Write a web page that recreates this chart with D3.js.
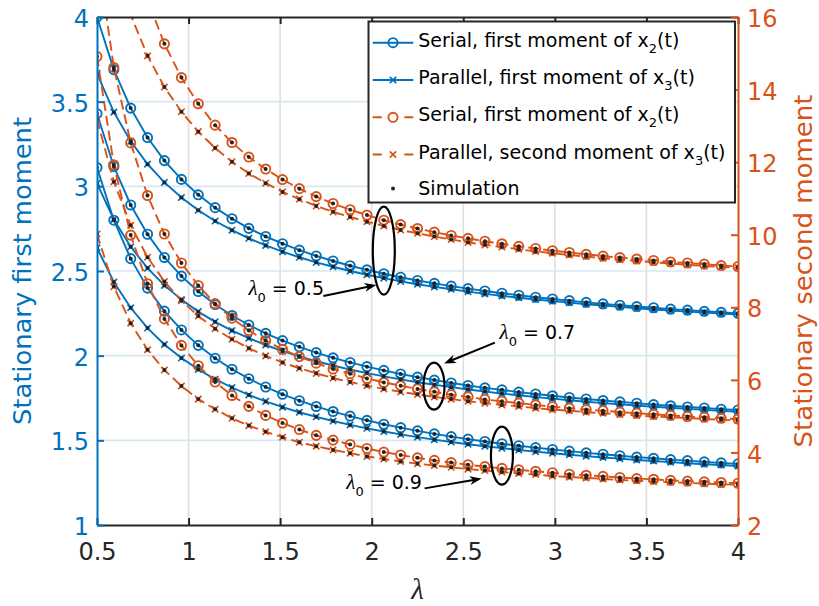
<!DOCTYPE html>
<html>
<head>
<meta charset="utf-8">
<script src="https://cdn.jsdelivr.net/npm/d3@7"></script>
<style>
  body { margin: 0; background: #fff; }
  svg { display: block; font-family: "DejaVu Sans", sans-serif; }
</style>
</head>
<body>
<div id="chart"></div>
<script>
// lambda (x axis) sample points
var lambdaValues = [0.5, 0.592, 0.684, 0.776, 0.868, 0.961, 1.053, 1.145, 1.237, 1.329, 1.421, 1.513, 1.605,
  1.697, 1.789, 1.882, 1.974, 2.066, 2.158, 2.25, 2.342, 2.434, 2.526, 2.618, 2.711, 2.803, 2.895, 2.987,
  3.079, 3.171, 3.263, 3.355, 3.447, 3.539, 3.632, 3.724, 3.816, 3.908, 4.0];

// first moment (left axis)
var serialFirst05 = [4.000, 3.689, 3.462, 3.288, 3.152, 3.041, 2.950, 2.874, 2.809, 2.752, 2.704, 2.661, 2.623,
  2.589, 2.559, 2.531, 2.507, 2.484, 2.463, 2.444, 2.427, 2.411, 2.396, 2.382, 2.369, 2.357, 2.345, 2.335,
  2.325, 2.315, 2.306, 2.298, 2.290, 2.283, 2.275, 2.269, 2.262, 2.256, 2.250];
var parallelFirst05 = [3.667, 3.438, 3.266, 3.131, 3.023, 2.934, 2.859, 2.795, 2.741, 2.693, 2.651, 2.614, 2.581,
  2.551, 2.525, 2.500, 2.478, 2.458, 2.439, 2.422, 2.406, 2.392, 2.378, 2.365, 2.353, 2.342, 2.332, 2.322,
  2.313, 2.304, 2.296, 2.288, 2.280, 2.273, 2.266, 2.260, 2.254, 2.248, 2.243];
var serialFirst07 = [3.429, 3.117, 2.890, 2.717, 2.580, 2.470, 2.379, 2.302, 2.237, 2.181, 2.132, 2.089, 2.052,
  2.018, 1.987, 1.960, 1.935, 1.913, 1.892, 1.873, 1.856, 1.839, 1.824, 1.810, 1.798, 1.785, 1.774, 1.763,
  1.753, 1.744, 1.735, 1.727, 1.719, 1.711, 1.704, 1.697, 1.691, 1.684, 1.679];
var parallelFirst07 = [3.017, 2.804, 2.643, 2.517, 2.415, 2.331, 2.260, 2.200, 2.148, 2.103, 2.063, 2.027, 1.996,
  1.967, 1.942, 1.918, 1.897, 1.878, 1.860, 1.843, 1.828, 1.814, 1.800, 1.788, 1.776, 1.766, 1.755, 1.746,
  1.737, 1.728, 1.720, 1.713, 1.705, 1.698, 1.692, 1.686, 1.680, 1.674, 1.669];
var serialFirst09 = [3.111, 2.800, 2.573, 2.399, 2.263, 2.152, 2.061, 1.985, 1.920, 1.864, 1.815, 1.772, 1.734,
  1.700, 1.670, 1.643, 1.618, 1.595, 1.575, 1.556, 1.538, 1.522, 1.507, 1.493, 1.480, 1.468, 1.457, 1.446,
  1.436, 1.426, 1.418, 1.409, 1.401, 1.394, 1.386, 1.380, 1.373, 1.367, 1.361];
var parallelFirst09 = [2.637, 2.435, 2.283, 2.163, 2.066, 1.986, 1.919, 1.861, 1.812, 1.768, 1.730, 1.696, 1.666,
  1.639, 1.614, 1.591, 1.571, 1.552, 1.535, 1.519, 1.504, 1.490, 1.477, 1.465, 1.454, 1.443, 1.433, 1.424,
  1.415, 1.407, 1.399, 1.392, 1.384, 1.378, 1.371, 1.365, 1.359, 1.354, 1.348];

// second moment (right axis)
var serialSecond05 = [24.00, 20.46, 18.12, 16.47, 15.26, 14.33, 13.61, 13.02, 12.54, 12.14, 11.81, 11.52, 11.27,
  11.05, 10.86, 10.69, 10.54, 10.40, 10.28, 10.17, 10.07, 9.98, 9.90, 9.82, 9.75, 9.68, 9.62, 9.56,
  9.51, 9.46, 9.41, 9.37, 9.33, 9.29, 9.25, 9.22, 9.19, 9.15, 9.125];
var parallelSecond05 = [19.78, 17.59, 16.06, 14.93, 14.07, 13.39, 12.84, 12.39, 12.01, 11.69, 11.42, 11.18, 10.98,
  10.79, 10.63, 10.49, 10.36, 10.24, 10.13, 10.04, 9.95, 9.87, 9.79, 9.72, 9.66, 9.60, 9.54, 9.49,
  9.44, 9.40, 9.35, 9.31, 9.28, 9.24, 9.21, 9.17, 9.14, 9.11, 9.09];
var serialSecond07 = [17.80, 14.61, 12.53, 11.08, 10.02, 9.22, 8.60, 8.10, 7.70, 7.36, 7.08, 6.84, 6.64,
  6.46, 6.30, 6.17, 6.04, 5.93, 5.84, 5.75, 5.67, 5.59, 5.53, 5.46, 5.41, 5.36, 5.31, 5.26,
  5.22, 5.18, 5.15, 5.11, 5.08, 5.05, 5.02, 4.99, 4.97, 4.94, 4.92];
var parallelSecond07 = [13.18, 11.46, 10.26, 9.38, 8.71, 8.18, 7.76, 7.41, 7.12, 6.87, 6.66, 6.48, 6.32,
  6.18, 6.05, 5.94, 5.84, 5.75, 5.67, 5.60, 5.53, 5.47, 5.41, 5.36, 5.31, 5.27, 5.22, 5.18,
  5.15, 5.11, 5.08, 5.05, 5.02, 4.99, 4.97, 4.95, 4.92, 4.90, 4.88];
var serialSecond09 = [14.91, 11.93, 9.99, 8.65, 7.68, 6.95, 6.39, 5.94, 5.57, 5.27, 5.02, 4.81, 4.63,
  4.47, 4.34, 4.22, 4.11, 4.01, 3.93, 3.85, 3.78, 3.72, 3.66, 3.61, 3.56, 3.52, 3.48, 3.44,
  3.40, 3.37, 3.34, 3.31, 3.28, 3.26, 3.23, 3.21, 3.19, 3.17, 3.15];
var parallelSecond09 = [10.02, 8.57, 7.56, 6.83, 6.27, 5.83, 5.47, 5.19, 4.94, 4.74, 4.57, 4.42, 4.28,
  4.17, 4.07, 3.98, 3.89, 3.82, 3.75, 3.69, 3.64, 3.59, 3.54, 3.50, 3.46, 3.42, 3.39, 3.35,
  3.32, 3.30, 3.27, 3.24, 3.22, 3.20, 3.18, 3.16, 3.14, 3.12, 3.11];

// ticks
var xTicks = [0.5, 1, 1.5, 2, 2.5, 3, 3.5, 4];
var leftTicks = [1, 1.5, 2, 2.5, 3, 3.5, 4];
var rightTicks = [2, 4, 6, 8, 10, 12, 14, 16];

// legend entries: [text before subscript, subscript, after]
var legendLabels = [
  ["Serial, first moment of x", "2", "(t)"],
  ["Parallel, first moment of x", "3", "(t)"],
  ["Serial, first moment of x", "2", "(t)"],
  ["Parallel, second moment of x", "3", "(t)"],
  ["Simulation", "", ""]
];

// lambda_0 annotations (ellipse centre in data units)
var lambda0Labels = ["0.5", "0.7", "0.9"];
var lambda0Centers = [[2.066, 2.62], [2.34, 1.82], [2.711, 1.41]];

var blue = "#0072BD", orange = "#D95319", dark = "#262626";

// set the dimensions and margins of the graph
var margin = { top: 17, right: 81, bottom: 81, left: 97 },
    width = 819 - margin.left - margin.right,
    height = 606 - margin.top - margin.bottom;

var svgRoot = d3.select("#chart")
    .append("svg")
    .attr("width", 819)
    .attr("height", 606);

svgRoot.append("rect").attr("width", 819).attr("height", 606).attr("fill", "#fff");

var svg = svgRoot.append("g")
    .attr("transform", "translate(" + margin.left + "," + margin.top + ")");

var x = d3.scaleLinear().domain([0.5, 4]).range([0, width]);
var yLeft = d3.scaleLinear().domain([1, 4]).range([height, 0]);
var yRight = d3.scaleLinear().domain([2, 16]).range([height, 0]);

// grid
svg.append("g").selectAll("line")
    .data(xTicks.slice(1, -1))
    .enter().append("line")
    .attr("x1", function (d) { return x(d); })
    .attr("x2", function (d) { return x(d); })
    .attr("y1", 0).attr("y2", height)
    .attr("stroke", "#dfdfdf").attr("stroke-width", 1.6);

svg.append("g").selectAll("line")
    .data(leftTicks.slice(1, -1))
    .enter().append("line")
    .attr("x1", 0).attr("x2", width)
    .attr("y1", function (d) { return yLeft(d); })
    .attr("y2", function (d) { return yLeft(d); })
    .attr("stroke", "#d6e7f4").attr("stroke-width", 1.6);

svg.append("clipPath").attr("id", "plotClip")
    .append("rect").attr("width", width).attr("height", height);

var plot = svg.append("g").attr("clip-path", "url(#plotClip)");

var curves = [
  { values: serialFirst05, y: yLeft, color: blue, marker: "o", dashed: false },
  { values: parallelFirst05, y: yLeft, color: blue, marker: "x", dashed: false },
  { values: serialFirst07, y: yLeft, color: blue, marker: "o", dashed: false },
  { values: parallelFirst07, y: yLeft, color: blue, marker: "x", dashed: false },
  { values: serialFirst09, y: yLeft, color: blue, marker: "o", dashed: false },
  { values: parallelFirst09, y: yLeft, color: blue, marker: "x", dashed: false },
  { values: serialSecond05, y: yRight, color: orange, marker: "o", dashed: true },
  { values: parallelSecond05, y: yRight, color: orange, marker: "x", dashed: true },
  { values: serialSecond07, y: yRight, color: orange, marker: "o", dashed: true },
  { values: parallelSecond07, y: yRight, color: orange, marker: "x", dashed: true },
  { values: serialSecond09, y: yRight, color: orange, marker: "o", dashed: true },
  { values: parallelSecond09, y: yRight, color: orange, marker: "x", dashed: true }
];

function drawMarker(g, type, cx, cy, color) {
    if (type == "o") {
        g.append("circle").attr("cx", cx).attr("cy", cy).attr("r", 4.6)
            .attr("fill", "none").attr("stroke", color).attr("stroke-width", 1.9);
    } else if (type == "x") {
        var s = 3.2;
        g.append("path")
            .attr("d", "M" + (cx - s) + "," + (cy - s) + "L" + (cx + s) + "," + (cy + s) +
                "M" + (cx - s) + "," + (cy + s) + "L" + (cx + s) + "," + (cy - s))
            .attr("stroke", color).attr("stroke-width", 1.7).attr("fill", "none");
    } else {
        g.append("circle").attr("cx", cx).attr("cy", cy).attr("r", 2).attr("fill", "#222");
    }
}

var line = d3.line();

curves.forEach(function (c) {
    var pts = lambdaValues.map(function (l, i) { return [x(l), c.y(c.values[i])]; });
    plot.append("path")
        .attr("d", line(pts))
        .attr("fill", "none")
        .attr("stroke", c.color)
        .attr("stroke-width", 1.9)
        .attr("stroke-dasharray", c.dashed ? "10,5" : null);
    pts.forEach(function (p) { drawMarker(plot, c.marker, p[0], p[1], c.color); });
});

// simulation dots on top
curves.forEach(function (c) {
    lambdaValues.forEach(function (l, i) {
        drawMarker(plot, ".", x(l), c.y(c.values[i]), "#222");
    });
});

// axes
function styleAxis(g, color) {
    g.attr("font-size", 24).attr("font-family", "DejaVu Sans, sans-serif");
    g.select(".domain").attr("stroke", color).attr("stroke-width", 2);
    g.selectAll(".tick line").attr("stroke", color).attr("stroke-width", 2);
    g.selectAll(".tick text").attr("fill", color);
}

var gTop = svg.append("g")
    .call(d3.axisTop(x).tickValues(xTicks).tickSize(-7).tickSizeOuter(0).tickFormat(""));
styleAxis(gTop, dark);

var gBottom = svg.append("g")
    .attr("transform", "translate(0," + height + ")")
    .call(d3.axisBottom(x).tickValues(xTicks).tickSize(-7).tickSizeOuter(0).tickPadding(18)
        .tickFormat(d3.format("")));
styleAxis(gBottom, dark);

var gLeft = svg.append("g")
    .call(d3.axisLeft(yLeft).tickValues(leftTicks).tickSize(-7).tickSizeOuter(0).tickPadding(8)
        .tickFormat(d3.format("")));
styleAxis(gLeft, blue);
gLeft.selectAll(".tick text").attr("dy", "0.40em");

var gRight = svg.append("g")
    .attr("transform", "translate(" + width + ",0)")
    .call(d3.axisRight(yRight).tickValues(rightTicks).tickSize(-7).tickSizeOuter(0).tickPadding(9)
        .tickFormat(d3.format("")));
styleAxis(gRight, orange);
gRight.selectAll(".tick text").attr("dy", "0.40em");

// axis titles
svgRoot.append("text")
    .attr("transform", "translate(31," + (margin.top + height / 2) + ") rotate(-90)")
    .attr("text-anchor", "middle")
    .attr("font-size", 24)
    .attr("textLength", 308).attr("lengthAdjust", "spacingAndGlyphs")
    .attr("fill", blue)
    .text("Stationary first moment");

svgRoot.append("text")
    .attr("transform", "translate(812," + (margin.top + height / 2) + ") rotate(-90)")
    .attr("text-anchor", "middle")
    .attr("font-size", 24)
    .attr("textLength", 353).attr("lengthAdjust", "spacingAndGlyphs")
    .attr("fill", orange)
    .text("Stationary second moment");

svgRoot.append("text")
    .attr("x", margin.left + width / 2)
    .attr("y", 599)
    .attr("text-anchor", "middle")
    .attr("font-family", "Liberation Serif, serif")
    .attr("font-style", "italic")
    .attr("font-size", 29)
    .attr("fill", dark)
    .text("λ");

// legend
var legend = svgRoot.append("g");
legend.append("rect")
    .attr("x", 368.5).attr("y", 21.5).attr("width", 366.5).attr("height", 181)
    .attr("fill", "#fff").attr("stroke", dark).attr("stroke-width", 2);

var legendRows = [42.7, 80, 117.3, 154.5, 188.5];
var legendStyle = [curves[0], curves[1], curves[6], curves[7], null];

legendStyle.forEach(function (c, i) {
    var yy = legendRows[i];
    if (c) {
        legend.append("line")
            .attr("x1", 372.7).attr("x2", 413.3).attr("y1", yy).attr("y2", yy)
            .attr("stroke", c.color).attr("stroke-width", 1.9)
            .attr("stroke-dasharray", c.dashed ? "9,22.6" : null);
        drawMarker(legend, c.marker, 393, yy, c.color);
    } else {
        drawMarker(legend, ".", 393, yy, "#222");
    }
    var t = legend.append("text")
        .attr("x", 418.3)
        .attr("y", yy + (c ? 4 : 6.7))
        .attr("font-size", 19)
        .attr("fill", "#000");
    t.append("tspan").text(legendLabels[i][0]);
    if (legendLabels[i][1]) {
        t.append("tspan").attr("font-size", 13).attr("dy", 6).text(legendLabels[i][1]);
        t.append("tspan").attr("dy", -6).text(legendLabels[i][2]);
    }
});

// lambda_0 annotations: ellipse, arrow, label (offsets in px from ellipse centre)
var annoShape = [
  { rx: 11, ry: 44, tip: [-7.4, 34.3], tail: [-60.4, 45.3], text: [-135.4, 44.3] },
  { rx: 10.5, ry: 23.5, tip: [10.1, -22.7], tail: [60.9, -43.5], text: [65.6, -46.7] },
  { rx: 11, ry: 29, tip: [-20.3, 23], tail: [-77.3, 32.8], text: [-155.6, 33.8] }
];

var anno = svg.append("g");

function drawArrow(g, x1, y1, x2, y2) {
    var dx = x2 - x1, dy = y2 - y1, len = Math.sqrt(dx * dx + dy * dy);
    var ux = dx / len, uy = dy / len, nx = -uy, ny = ux;
    var L = 12, W = 9;
    g.append("line")
        .attr("x1", x1).attr("y1", y1)
        .attr("x2", x2 - ux * L * 0.7).attr("y2", y2 - uy * L * 0.7)
        .attr("stroke", "#000").attr("stroke-width", 2);
    var p = [
        [x2, y2],
        [x2 - ux * L + nx * W / 2, y2 - uy * L + ny * W / 2],
        [x2 - ux * L * 0.7, y2 - uy * L * 0.7],
        [x2 - ux * L - nx * W / 2, y2 - uy * L - ny * W / 2]
    ];
    g.append("path").attr("d", "M" + p.join("L") + "Z").attr("fill", "#000");
}

lambda0Centers.forEach(function (c, i) {
    var cx = x(c[0]), cy = yLeft(c[1]), s = annoShape[i];
    anno.append("ellipse")
        .attr("cx", cx).attr("cy", cy).attr("rx", s.rx).attr("ry", s.ry)
        .attr("fill", "none").attr("stroke", "#000").attr("stroke-width", 2.2);
    drawArrow(anno, cx + s.tail[0], cy + s.tail[1], cx + s.tip[0], cy + s.tip[1]);
    var t = anno.append("text")
        .attr("x", cx + s.text[0]).attr("y", cy + s.text[1])
        .attr("font-size", 19).attr("fill", "#000");
    t.append("tspan").attr("font-family", "Liberation Serif, serif").attr("font-style", "italic")
        .attr("font-size", 21).text("λ");
    t.append("tspan").attr("font-size", 13).attr("dy", 7).text("0");
    t.append("tspan").attr("dy", -7).text(" = " + lambda0Labels[i]);
});
</script>
</body>
</html>
